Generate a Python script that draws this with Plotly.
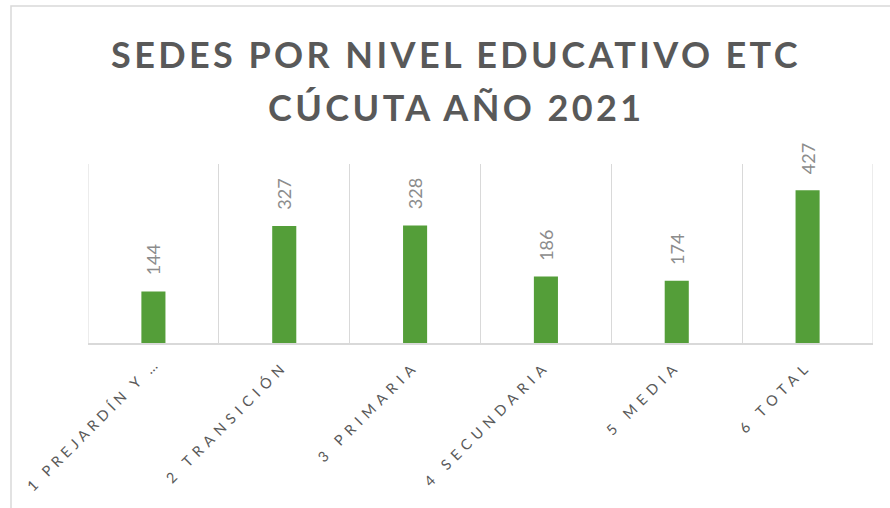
import plotly.graph_objects as go

categories = ["1 PREJARDÍN Y …", "2 TRANSICIÓN", "3 PRIMARIA", "4 SECUNDARIA", "5 MEDIA", "6 TOTAL"]
values = [144, 327, 328, 186, 174, 427]
title_lines = ["SEDES POR NIVEL EDUCATIVO ETC", "CÚCUTA AÑO 2021"]

W, H = 890, 508
ML, MR, MT, MB = 88, 17, 164, 165
PW, PH = W - ML - MR, H - MT - MB

def px_x(p):
    return (p - ML) / PW

def px_y(p):
    return (H - MB - p) / PH

def spaced(t, ls):
    if t.endswith("…"):
        return (f'<span style="letter-spacing:{ls - 1.2}px">{t[:-1]}</span>'
                f'<span style="letter-spacing:0px">…</span>')
    return f'<span style="letter-spacing:{ls}px">{t}</span>'

fig = go.Figure()
fig.add_trace(go.Bar(
    x=categories, y=values,
    marker=dict(color="#549E39", line=dict(width=0)),
    width=0.184,
    hoverinfo="skip",
))

annotations = []
for c, v in zip(categories, values):
    annotations.append(dict(
        x=c, y=v, xref="x", yref="y", text=str(v), showarrow=False,
        textangle=-90, yanchor="bottom", xanchor="center", yshift=14,
        font=dict(family="Lato", size=18, color="#8c8c8c"),
    ))

title_y = [54, 107]
for line, yy in zip(title_lines, title_y):
    annotations.append(dict(
        x=px_x(456), y=px_y(yy), xref="paper", yref="paper",
        text=spaced(line, 3.4), showarrow=False,
        xanchor="center", yanchor="middle",
        font=dict(family="Lato", size=36, color="#595959", weight="bold"),
    ))

edge_lines = [dict(
    type="line", xref="x", yref="paper", x0=xv, x1=xv, y0=0, y1=1,
    line=dict(color="#d9d9d9", width=1), layer="below",
) for xv in (-0.5, len(categories) - 0.5)]

fig.update_layout(
    width=W, height=H,
    margin=dict(l=ML, r=MR, t=MT, b=MB, autoexpand=False),
    paper_bgcolor="white", plot_bgcolor="white",
    showlegend=False,
    annotations=annotations,
    xaxis=dict(
        type="category",
        categoryorder="array", categoryarray=categories,
        tickmode="array", tickvals=categories,
        ticktext=[spaced(c, 5.6) for c in categories],
        tickson="boundaries",
        tickangle=-45,
        ticklabelstandoff=7,
        ticks="", showgrid=True, gridcolor="#d9d9d9", gridwidth=1,
        showline=True, linecolor="#d9d9d9", linewidth=1.5,
        tickfont=dict(family="Lato", size=14.5, color="#595959"),
        range=[-0.5, 5.5], fixedrange=True, automargin=False,
    ),
    yaxis=dict(
        range=[0, 500], showgrid=False, zeroline=False, showline=False,
        showticklabels=False, ticks="", fixedrange=True,
    ),
    shapes=edge_lines + [dict(
        type="rect", xref="paper", yref="paper",
        x0=px_x(11), x1=px_x(905), y0=px_y(520), y1=px_y(6),
        line=dict(color="#d9d9d9", width=1.5), fillcolor="rgba(0,0,0,0)",
        layer="below",
    )],
)

fig.write_html("out.html", config={"displayModeBar": False},
               post_script="document.body.style.margin='0px';")
